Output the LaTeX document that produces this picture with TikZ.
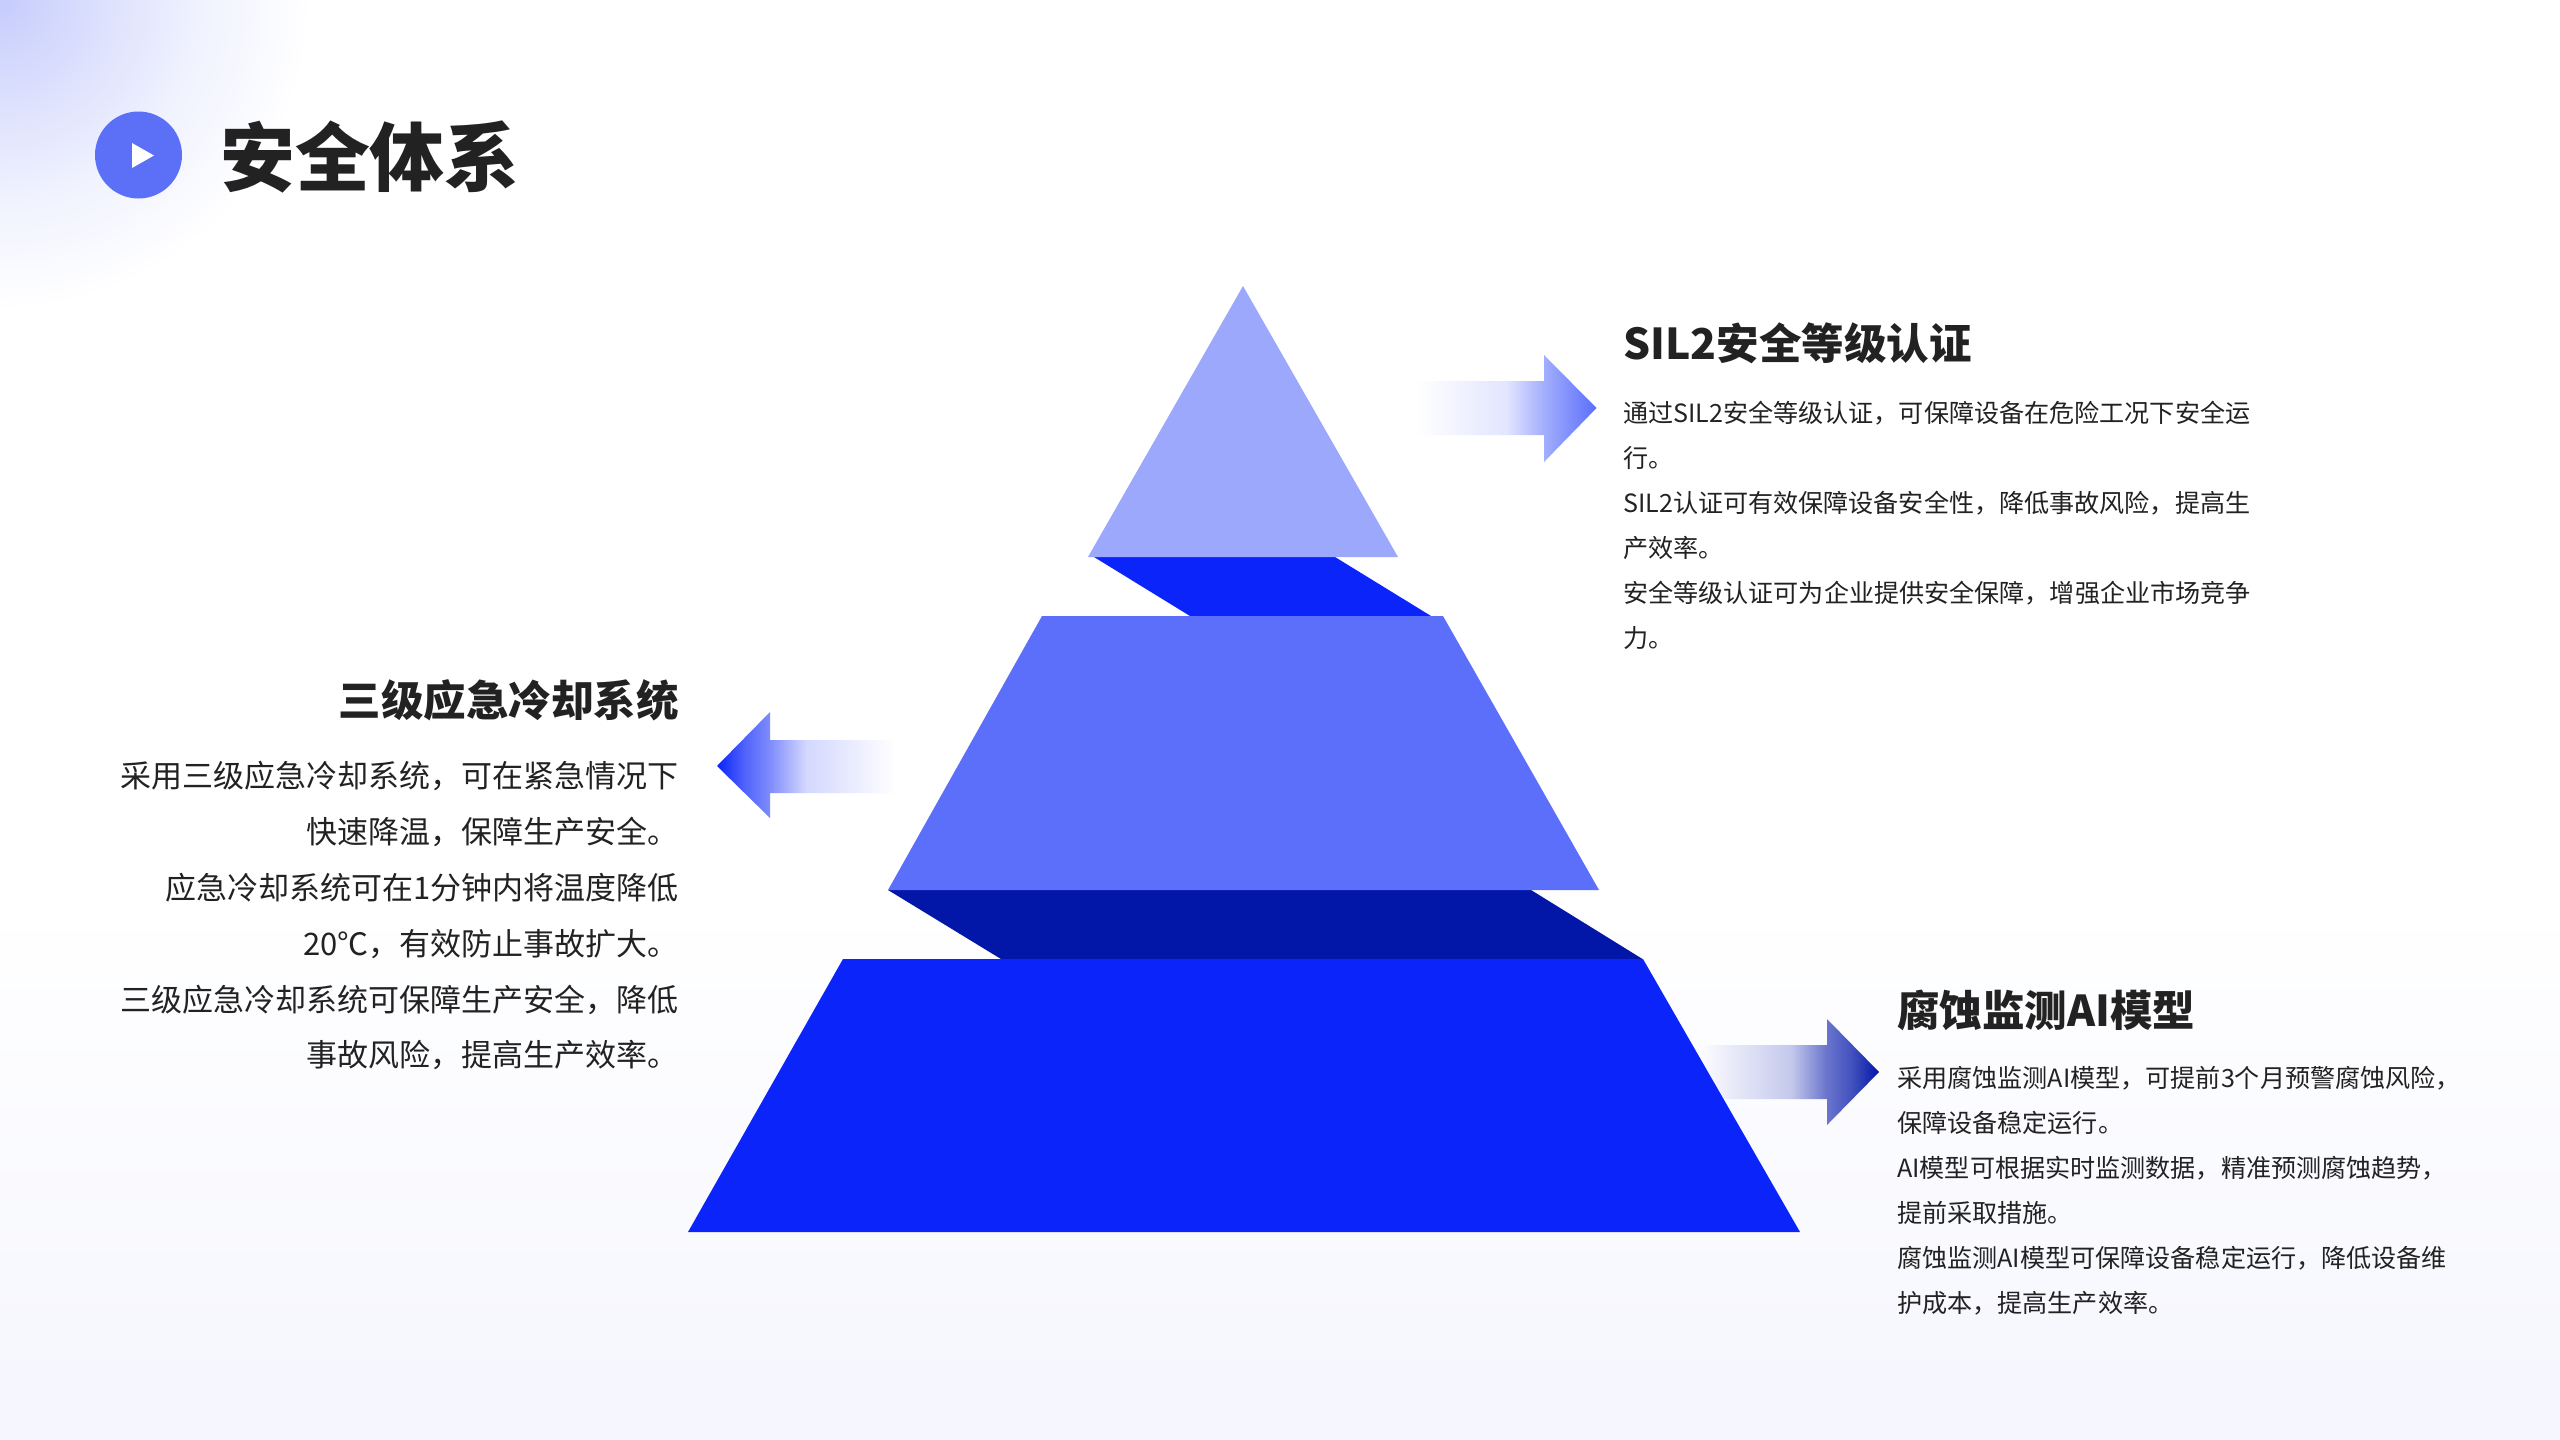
\documentclass[tikz,border=0pt]{standalone}
\usepackage{fontspec}
\setmainfont{Noto Sans CJK SC}
\definecolor{ink}{HTML}{222222}
\definecolor{bgend}{HTML}{F5F6FE}
\definecolor{tailC}{HTML}{FBFBFF}
\definecolor{tintA}{HTML}{9CA8FB}
\definecolor{tintB}{HTML}{5B6FFB}
\definecolor{tintC}{HTML}{0A24FA}
\definecolor{tintD}{HTML}{0216A8}
\definecolor{dot}{HTML}{5B70F6}
\definecolor{glowA}{HTML}{C6CCFC}
\definecolor{glowB}{HTML}{DCE0FD}
\definecolor{glowC}{HTML}{F0F2FE}
\definecolor{glowD}{HTML}{FFFFFF}
\pgfdeclareradialshading{cornerglow}{\pgfpoint{0bp}{0bp}}{
  color(0bp)=(glowA);
  color(8bp)=(glowB);
  color(16bp)=(glowC);
  color(25bp)=(glowD);
  color(50bp)=(glowD)}
\pgfdeclarehorizontalshading{fadeA}{100bp}{
  color(0bp)=(white); color(25bp)=(white);
  color(50bp)=(tintB!18!white); color(60bp)=(tintB!55!white);
  color(67.5bp)=(tintB!78!white); color(75bp)=(tintB); color(100bp)=(tintB)}
\pgfdeclarehorizontalshading{fadeB}{100bp}{
  color(0bp)=(tintC); color(25bp)=(tintC);
  color(32.5bp)=(tintC!72!white); color(40bp)=(tintC!52!white);
  color(50bp)=(tintC!18!white); color(75bp)=(white); color(100bp)=(white)}
\pgfdeclarehorizontalshading{fadeC}{100bp}{
  color(0bp)=(tailC); color(25bp)=(tailC);
  color(50bp)=(tintD!22!tailC); color(60bp)=(tintD!58!tailC);
  color(67.5bp)=(tintD!75!tailC); color(75bp)=(tintD); color(100bp)=(tintD)}
\tikzset{
  heading/.style={inner sep=0pt,text=ink,font=\fontsize{42.5}{50}\selectfont\bfseries},
  bodyS/.style={inner sep=0pt,text=ink,align=left,anchor=north west,font=\fontsize{25.1}{45}\selectfont},
  bodyL/.style={inner sep=0pt,text=ink,align=right,anchor=north east,font=\fontsize{31}{55.8}\selectfont},
}
\begin{document}
\begin{tikzpicture}[x=1pt,y=-1pt]
\useasboundingbox (0,0) rectangle (2560,1440);
% background
\fill[white] (0,0) rectangle (2560,900);
\shade[top color=white,bottom color=bgend] (0,900) rectangle (2560,1440);
\begin{scope}
\clip (0,0) rectangle (310,310);
\shade[shading=cornerglow] (-310,-310) rectangle (310,310);
\end{scope}
% title
\node[circle,fill=dot,minimum size=87pt,inner sep=0pt] (badge) at (138.5,155) {};
\fill[white] (132,143) -- (154,155.5) -- (132,168) -- cycle;
\node[inner sep=0pt,anchor=west,text=ink,font=\fontsize{74.8}{80}\selectfont\bfseries] (title) at (220,157) {安全体系};
% arrows
\shade[shading=fadeA] (1417,381) -- (1544,381) -- (1544,355) -- (1596.5,408) -- (1544,462) -- (1544,435) -- (1417,435) -- cycle;
\shade[shading=fadeB] (895,740) -- (770,740) -- (770,712) -- (717,766) -- (770,818) -- (770,793) -- (895,793) -- cycle;
\shade[shading=fadeC] (1703,1045) -- (1827,1045) -- (1827,1019) -- (1879,1072) -- (1827,1125) -- (1827,1099) -- (1703,1099) -- cycle;
% pyramid
\fill[tintC] (1094,557) -- (1335,557) -- (1431,616) -- (1190,616) -- cycle;
\fill[tintD] (888,890) -- (1531,890) -- (1642.5,959) -- (1001,959) -- cycle;
\fill[tintA] (1243,286) -- (1398,557) -- (1088,557) -- cycle;
\fill[tintB] (1042,616) -- (1443,616) -- (1599,890) -- (888,890) -- cycle;
\fill[tintC] (843,959) -- (1643,959) -- (1800,1232) -- (688,1232) -- cycle;
% texts
\node[heading,anchor=west] (headA) at (1623,343) {SIL2安全等级认证};
\node[bodyS] (bodyA) at (1623,401.4) {通过SIL2安全等级认证，可保障设备在危险工况下安全运\\行。\\SIL2认证可有效保障设备安全性，降低事故风险，提高生\\产效率。\\安全等级认证可为企业提供安全保障，增强企业市场竞争\\力。};
\node[heading,anchor=east] (headB) at (679,700) {三级应急冷却系统};
\node[bodyL] (bodyB) at (679,761.5) {采用三级应急冷却系统，可在紧急情况下\\快速降温，保障生产安全。\\应急冷却系统可在1分钟内将温度降低\\20℃，有效防止事故扩大。\\三级应急冷却系统可保障生产安全，降低\\事故风险，提高生产效率。};
\node[heading,anchor=west] (headC) at (1897,1010) {腐蚀监测AI模型};
\node[bodyS] (bodyC) at (1897,1066.4) {采用腐蚀监测AI模型，可提前3个月预警腐蚀风险，\\保障设备稳定运行。\\AI模型可根据实时监测数据，精准预测腐蚀趋势，\\提前采取措施。\\腐蚀监测AI模型可保障设备稳定运行，降低设备维\\护成本，提高生产效率。};
\end{tikzpicture}
\end{document}
